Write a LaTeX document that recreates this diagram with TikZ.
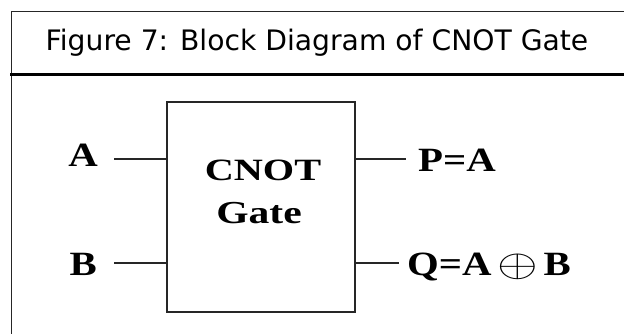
\documentclass[tikz,border=0pt]{standalone}
\usepackage{fontspec}
\setmainfont{Liberation Serif}
\newfontfamily\titlefont{DejaVu Sans}
\newfontfamily\labfont[FakeStretch=1.2]{Liberation Serif}
\newfontfamily\gatefont[FakeStretch=1.3]{Liberation Serif}
\usetikzlibrary{calc}

\begin{document}
\begin{tikzpicture}[x=1pt, y=-1pt, line cap=rect,
	frame/.style={line width=1.3pt, black!85},
	gate/.style={draw, line width=2pt, black!85, minimum width=188pt, minimum height=210pt, inner sep=0pt},
	wire/.style={line width=2pt, black!85},
	lab/.style={inner sep=0pt, font=\labfont\bfseries\fontsize{34}{36}\selectfont}]
	\useasboundingbox (0,0) rectangle (624,333);
	% frame and caption
	\draw[frame] (624,11.5) -- (11.5,11.5) -- (11.5,333);
	\draw[line width=2.4pt] (11.5,74.5) -- (624,74.5);
	\node[inner sep=0pt, font=\titlefont\fontsize{28.2}{30}\selectfont] (cap) at (317,42.5) {Figure 7: Block Diagram of CNOT Gate};
	% gate
	\node[gate] (g) at (261,207) {};
	\node[inner sep=0pt, anchor=base, font=\gatefont\bfseries\fontsize{31}{31}\selectfont] (g1) at (263,180.5) {CNOT};
	\node[inner sep=0pt, anchor=base, font=\gatefont\bfseries\fontsize{32}{32}\selectfont] (g2) at (259,223.5) {Gate};
	% ends of the wires
	\coordinate (ia) at (115,159);
	\coordinate (ib) at (115,263);
	\coordinate (op) at (405,159);
	\coordinate (oq) at (398,263);
	\node[lab, anchor=base east] (a) at (98,166) {A};
	\node[lab, anchor=base east] (b) at (97,275) {B};
	\node[lab, anchor=base west] (p) at (418,171) {P=A};
	\node[lab, anchor=base west] (q) at (407,275) {Q=A\,\raisebox{-1pt}{\scalebox{2.1}[1.55]{$\oplus$}}\,B};
	\foreach \c in {ia, ib} {\draw[wire] (\c) -- (\c -| g.west);}
	\foreach \c in {op, oq} {\draw[wire] (\c) -- (\c -| g.east);}
	\end{tikzpicture}
\end{document}
